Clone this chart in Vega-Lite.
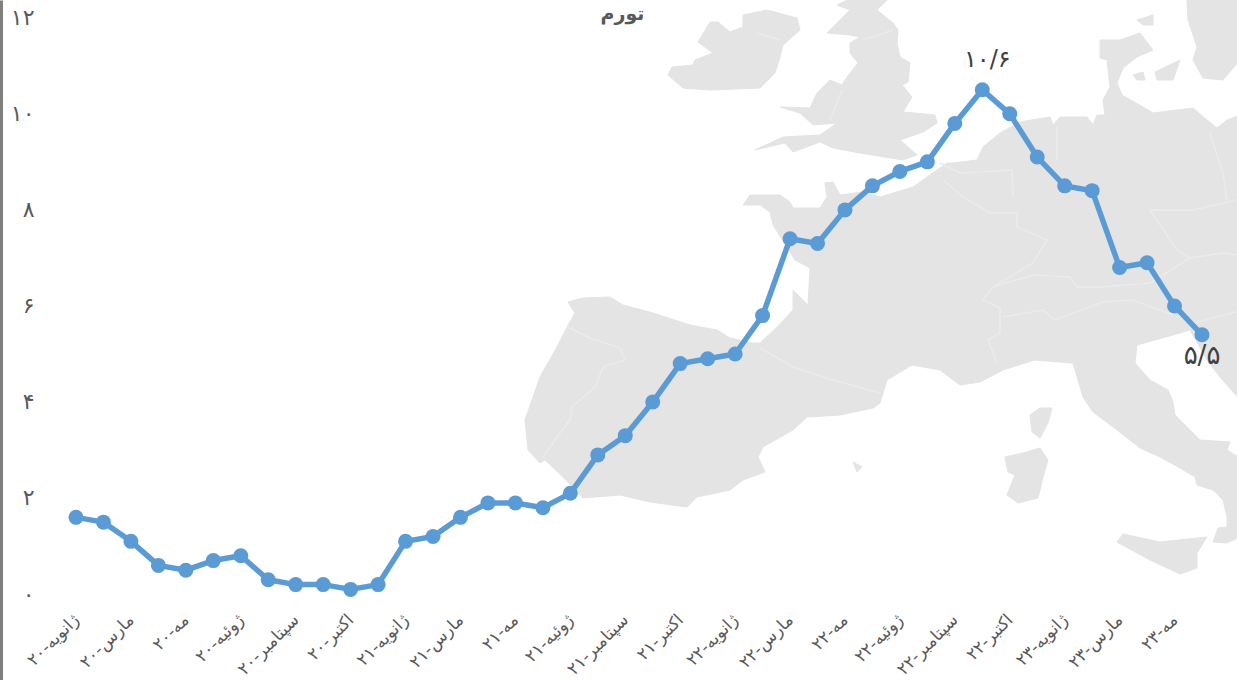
{
"$schema":"https://vega.github.io/schema/vega-lite/v6.json",
"autosize":"none","padding":0,"width":1237,"height":680,"background":"#ffffff",
"title":{"text":"تورم","font":"DejaVu Sans","fontSize":19,"fontWeight":"bold","color":"#595959","anchor":"middle","offset":-24,"dx":4},
"config":{"view":{"stroke":null}},
"datasets":{"cpi":[
{"m":"ژانویه-۲۰","v":1.7},{"m":"فوریه-۲۰","v":1.6},{"m":"مارس-۲۰","v":1.2},{"m":"آوریل-۲۰","v":0.7},{"m":"مه-۲۰","v":0.6},{"m":"ژوئن-۲۰","v":0.8},{"m":"ژوئیه-۲۰","v":0.9},{"m":"اوت-۲۰","v":0.4},{"m":"سپتامبر-۲۰","v":0.3},{"m":"مهر-۲۰","v":0.3},{"m":"اکتبر-۲۰","v":0.2},{"m":"دسامبر-۲۰","v":0.3},
{"m":"ژانویه-۲۱","v":1.2},{"m":"فوریه-۲۱","v":1.3},{"m":"مارس-۲۱","v":1.7},{"m":"آوریل-۲۱","v":2.0},{"m":"مه-۲۱","v":2.0},{"m":"ژوئن-۲۱","v":1.9},{"m":"ژوئیه-۲۱","v":2.2},{"m":"اوت-۲۱","v":3.0},{"m":"سپتامبر-۲۱","v":3.4},{"m":"مهر-۲۱","v":4.1},{"m":"اکتبر-۲۱","v":4.9},{"m":"دسامبر-۲۱","v":5.0},
{"m":"ژانویه-۲۲","v":5.1},{"m":"فوریه-۲۲","v":5.9},{"m":"مارس-۲۲","v":7.5},{"m":"آوریل-۲۲","v":7.4},{"m":"مه-۲۲","v":8.1},{"m":"ژوئن-۲۲","v":8.6},{"m":"ژوئیه-۲۲","v":8.9},{"m":"اوت-۲۲","v":9.1},{"m":"سپتامبر-۲۲","v":9.9},{"m":"مهر-۲۲","v":10.6,"note":"۱۰/۶"},{"m":"اکتبر-۲۲","v":10.1},{"m":"دسامبر-۲۲","v":9.2},
{"m":"ژانویه-۲۳","v":8.6},{"m":"فوریه-۲۳","v":8.5},{"m":"مارس-۲۳","v":6.9},{"m":"آوریل-۲۳","v":7.0},{"m":"مه-۲۳","v":6.1},{"m":"ژوئن-۲۳","v":5.5,"note2":"۵/۵"}
]},
"layer":[
{"data":{"values":[
{"type":"Feature","properties":{"n":"ireland"},"geometry":{"type":"Polygon","coordinates":[[[668,75],[672,67],[693,65],[695,60],[713,53],[698,42],[710,22],[718,22],[730,32],[743,27],[743,15],[767,10],[797,18],[800,30],[783,45],[780,57],[775,73],[760,88],[710,90],[683,88],[668,75]]]}},
{"type":"Feature","properties":{"n":"britain"},"geometry":{"type":"Polygon","coordinates":[[[837,5],[847,0],[887,0],[877,10],[893,23],[898,30],[897,43],[900,57],[910,63],[908,82],[902,85],[912,97],[903,112],[935,115],[937,123],[923,132],[900,140],[917,155],[903,160],[860,153],[833,148],[820,142],[793,152],[785,143],[755,150],[783,137],[820,135],[837,123],[813,125],[800,113],[780,107],[810,108],[817,93],[830,80],[842,85],[847,77],[858,63],[850,53],[850,43],[860,37],[850,35],[827,33],[837,23],[850,10],[837,5]]]}},
{"type":"Feature","properties":{"n":"continent"},"geometry":{"type":"Polygon","coordinates":[[[540,463],[528,450],[525,420],[540,377],[557,347],[567,327],[575,313],[568,302],[583,298],[610,297],[623,305],[653,313],[690,325],[717,330],[730,338],[753,343],[760,343],[777,327],[793,310],[793,290],[808,305],[810,268],[795,260],[773,225],[770,212],[760,205],[743,205],[750,195],[780,195],[790,202],[793,208],[820,208],[827,197],[825,183],[833,182],[840,195],[863,192],[880,197],[913,187],[930,175],[947,163],[953,163],[977,160],[983,147],[1000,133],[1020,122],[1050,117],[1053,125],[1060,117],[1087,117],[1093,125],[1097,115],[1105,115],[1103,100],[1110,87],[1107,60],[1100,58],[1100,40],[1120,40],[1140,33],[1153,50],[1137,57],[1123,68],[1117,83],[1122,95],[1143,107],[1153,113],[1193,108],[1207,120],[1217,128],[1227,120],[1240,115],[1240,400],[1220,377],[1207,360],[1190,330],[1173,335],[1137,345],[1135,363],[1150,380],[1168,390],[1173,402],[1175,415],[1190,430],[1200,440],[1230,442],[1227,450],[1240,458],[1240,537],[1227,543],[1213,542],[1218,528],[1227,527],[1227,517],[1223,500],[1213,490],[1197,485],[1195,477],[1180,468],[1160,457],[1140,448],[1117,430],[1093,412],[1083,397],[1078,380],[1073,363],[1035,360],[1003,370],[980,382],[960,385],[940,370],[912,365],[887,380],[880,403],[873,408],[840,415],[807,417],[793,430],[763,447],[758,457],[765,472],[743,480],[730,490],[697,497],[687,507],[650,502],[620,495],[583,498],[563,477],[545,460],[540,463]]]}},
{"type":"Feature","properties":{"n":"scandinavia"},"geometry":{"type":"Polygon","coordinates":[[[1187,0],[1188,20],[1197,47],[1193,60],[1203,78],[1223,80],[1240,60],[1240,0],[1187,0]]]}},
{"type":"Feature","properties":{"n":"zealand"},"geometry":{"type":"Polygon","coordinates":[[[1155,72],[1180,60],[1173,80],[1157,80],[1155,72]]]}},
{"type":"Feature","properties":{"n":"funen"},"geometry":{"type":"Polygon","coordinates":[[[1133,75],[1143,72],[1145,80],[1137,80],[1133,75]]]}},
{"type":"Feature","properties":{"n":"skagen"},"geometry":{"type":"Polygon","coordinates":[[[1137,20],[1153,15],[1153,25],[1143,25],[1137,20]]]}},
{"type":"Feature","properties":{"n":"corsica"},"geometry":{"type":"Polygon","coordinates":[[[1030,415],[1040,408],[1052,408],[1048,423],[1040,438],[1032,432],[1030,415]]]}},
{"type":"Feature","properties":{"n":"sardinia"},"geometry":{"type":"Polygon","coordinates":[[[1005,457],[1027,452],[1040,448],[1048,460],[1043,477],[1038,498],[1018,503],[1007,495],[1015,475],[1008,472],[1005,457]]]}},
{"type":"Feature","properties":{"n":"sicily"},"geometry":{"type":"Polygon","coordinates":[[[1117,542],[1123,534],[1160,542],[1207,537],[1197,553],[1197,568],[1180,574],[1150,560],[1117,542]]]}},
{"type":"Feature","properties":{"n":"mallorca"},"geometry":{"type":"Polygon","coordinates":[[[853,462],[862,467],[857,472],[853,462]]]}}
]},
"mark":{"type":"geoshape","fill":"#e4e4e4","stroke":"#e4e4e4","strokeWidth":1},
"projection":{"type":"identity","scale":1,"translate":[0,0]}},
{"data":{"values":[
{"type":"Feature","properties":{"n":"borders"},"geometry":{"type":"MultiLineString","coordinates":[
[[568,327],[590,338],[620,348],[625,360],[603,367],[595,387],[572,407],[570,420],[560,433],[550,447],[543,457]],
[[760,348],[793,367],[833,380],[880,393]],
[[943,180],[963,197],[990,213],[1017,213],[1017,227],[1047,240],[1033,263],[993,287],[983,300],[1000,308],[1000,333],[988,340],[997,363]],
[[1003,317],[1043,310],[1055,320],[1103,302],[1133,300],[1173,315]],
[[993,287],[1033,275],[1070,277],[1077,287],[1103,287],[1150,283],[1190,258],[1223,253],[1240,255]],
[[1150,210],[1177,250],[1190,258]],
[[1150,210],[1193,210],[1237,200]],
[[1210,133],[1223,173],[1227,200]],
[[1193,323],[1237,312]],
[[863,40],[893,30]],
[[842,90],[830,120]],
[[757,33],[780,40]],
[[940,163],[960,173],[1012,170],[1013,197]],
[[1057,127],[1057,160]]
]}}
]},
"mark":{"type":"geoshape","filled":false,"fill":null,"stroke":"#ebebeb","strokeWidth":1.5},
"projection":{"type":"identity","scale":1,"translate":[0,0]}},
{"data":{"name":"cpi"},
"encoding":{
"x":{"field":"m","type":"nominal","sort":null,"scale":{"type":"point","padding":0,"range":[76,1202]},
"axis":{"title":null,"domain":false,"ticks":false,"grid":false,"labelAngle":-45,"labelAlign":"right","labelBaseline":"middle","labelPadding":-63,"labelFontSize":17,"labelColor":"#595959","labelFont":"DejaVu Sans","labelOverlap":false,"labelBound":false,"labelFlush":false,"labelLimit":0,
"values":["ژانویه-۲۰","مارس-۲۰","مه-۲۰","ژوئیه-۲۰","سپتامبر-۲۰","اکتبر-۲۰","ژانویه-۲۱","مارس-۲۱","مه-۲۱","ژوئیه-۲۱","سپتامبر-۲۱","اکتبر-۲۱","ژانویه-۲۲","مارس-۲۲","مه-۲۲","ژوئیه-۲۲","سپتامبر-۲۲","اکتبر-۲۲","ژانویه-۲۳","مارس-۲۳","مه-۲۳"]}},
"y":{"field":"v","type":"quantitative","scale":{"domain":[-1.686,12.469],"nice":false,"zero":false},
"axis":{"title":null,"grid":false,"ticks":false,"values":[0,2,4,6,8,10,12],"labelExpr":"replace(replace(replace(replace(replace(replace(replace(datum.label,'12','۱۲'),'10','۱۰'),'8','۸'),'6','۶'),'4','۴'),'2','۲'),'0','۰')","labelPadding":-34,"labelOffset":-5,"labelFontSize":22,"labelColor":"#595959","labelFont":"DejaVu Sans","labelBound":false,"labelOverlap":false,"domain":true,"domainColor":"#7f7f7f","domainWidth":5}}
},
"layer":[
{"mark":{"type":"line","color":"#5b9bd5","strokeWidth":5.5,"strokeCap":"round","strokeJoin":"round"}},
{"mark":{"type":"point","filled":true,"color":"#5b9bd5","opacity":1,"size":225}},
{"transform":[{"filter":"isValid(datum.note)"}],"mark":{"type":"text","font":"DejaVu Sans","fontSize":24,"color":"#404040","dy":-30,"dx":5},"encoding":{"text":{"field":"note","type":"nominal"}}},
{"transform":[{"filter":"isValid(datum.note2)"}],"mark":{"type":"text","font":"DejaVu Sans","fontSize":26,"color":"#404040","dy":21,"dx":0},"encoding":{"text":{"field":"note2","type":"nominal"}}}
]}
],
"resolve":{"scale":{"x":"shared","y":"shared"}}
}
